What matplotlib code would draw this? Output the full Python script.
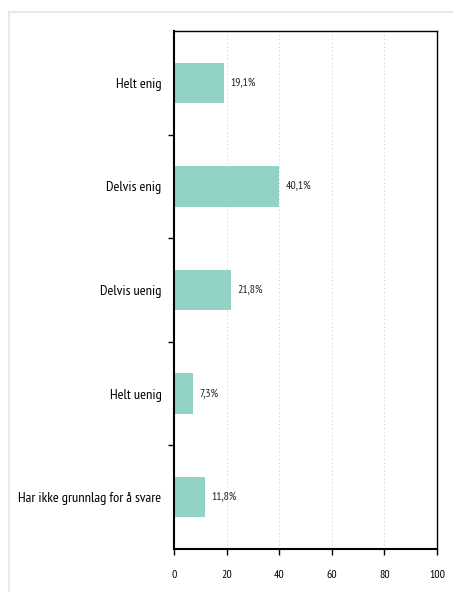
import matplotlib.pyplot as plt
import numpy as np
from matplotlib.lines import Line2D

plt.rcParams['font.family'] = ['PT Sans Narrow', 'DejaVu Sans']

categories = ['Helt enig', 'Delvis enig', 'Delvis uenig', 'Helt uenig',
              'Har ikke grunnlag for å svare']
values = [19.1, 40.1, 21.8, 7.3, 11.8]
xticks = [0, 20, 40, 60, 80, 100]

W, H = 453, 592
fig = plt.figure(figsize=(W / 100, H / 100), dpi=100)
ax = fig.add_axes([174 / W, 1 - 549 / H, (437 - 174) / W, (549 - 31) / H])

ypos = np.arange(len(categories))
ax.barh(ypos, values, height=0.39, color='#93d3c7', zorder=2)
for y, v in zip(ypos, values):
    ax.text(v + 2.3, y, f'{v:.1f}%'.replace('.', ','), va='center', ha='left',
            fontsize=8.5, color='#222222')

ax.set_xlim(0, 100)
ax.set_ylim(len(categories) - 0.5, -0.5)
ax.set_xticks(xticks)
ax.set_xticklabels([str(t) for t in xticks], fontsize=8.5)
ax.set_yticks(ypos)
ax.set_yticklabels(categories, fontsize=10.4)
ax.set_yticks(np.arange(0.5, len(categories) - 0.5), minor=True)
ax.tick_params(axis='y', which='major', length=0, pad=9)
ax.tick_params(axis='y', which='minor', length=4, width=1, direction='out')
ax.tick_params(axis='x', length=4, width=1, pad=11)

ax.xaxis.grid(True, linestyle=(0, (1, 3)), color='#cccccc', linewidth=0.7, zorder=0)
for side in ['left', 'bottom']:
    ax.spines[side].set_linewidth(1.5)
for side in ['top', 'right']:
    ax.spines[side].set_linewidth(1.0)

# thin grey frame round the page
fig.add_artist(Line2D([9 / W, 1], [1 - 12 / H, 1 - 12 / H], color='#e4e4e4', lw=1.2))
fig.add_artist(Line2D([9 / W, 9 / W], [0, 1 - 12 / H], color='#e4e4e4', lw=1.2))

fig.savefig('out.png', dpi=100)
